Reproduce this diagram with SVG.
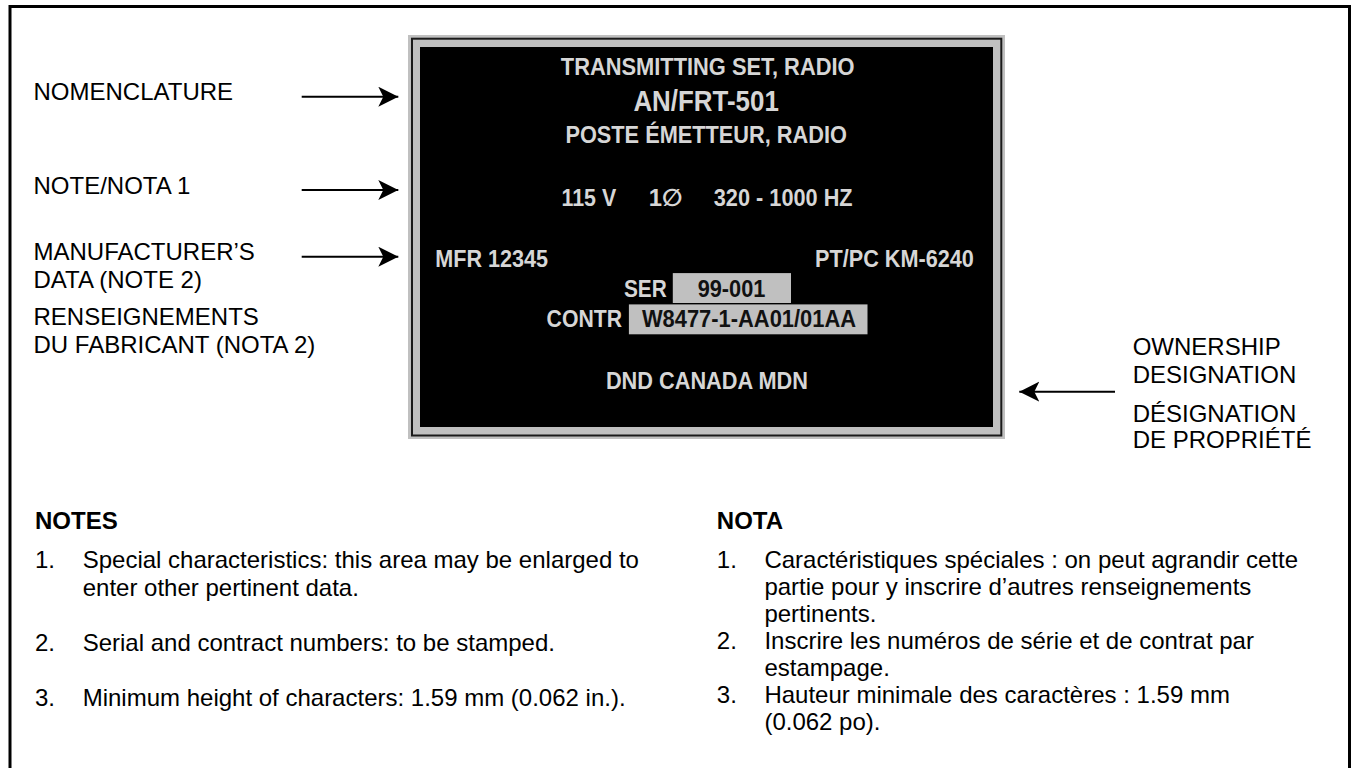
<svg xmlns="http://www.w3.org/2000/svg" width="1354" height="768" viewBox="0 0 1354 768">
<style>
.lbl{font-family:"Liberation Sans",Arial,sans-serif;font-size:24px;fill:#000}
.hd{font-family:"Liberation Sans",Arial,sans-serif;font-size:24px;font-weight:bold;fill:#000}
.pl{font-family:"Liberation Sans",Arial,"DejaVu Sans",sans-serif;font-size:24px;font-weight:bold;fill:#d6d6d6}
.pk{font-family:"Liberation Sans",Arial,sans-serif;font-size:24px;font-weight:bold;fill:#111}
.conn{stroke:#000;stroke-width:2;fill:none;marker-end:url(#ah)}
</style>
<defs>
<marker id="ah" markerUnits="userSpaceOnUse" markerWidth="22" markerHeight="22" refX="20" refY="10" orient="auto">
<path d="M0,0 L20,10 L0,20 L5,10 Z" fill="#000"/>
</marker>
</defs>
<rect x="0" y="0" width="1354" height="768" fill="#fff"/>
<rect id="frame" x="10" y="6.5" width="1339.5" height="780" fill="none" stroke="#000" stroke-width="3"/>

<g id="plate">
<rect x="408" y="35" width="597" height="404" fill="#c0c0c0"/>
<rect x="412" y="38.7" width="589.3" height="396.8" fill="none" stroke="#1a1a1a" stroke-width="2"/>
<rect x="420" y="47" width="573" height="380" fill="#000"/>
<text class="pl" x="560.8" y="75.3" textLength="293.7" lengthAdjust="spacingAndGlyphs">TRANSMITTING SET, RADIO</text>
<text class="pl" x="633.4" y="111.2" style="font-size:30px" textLength="145.4" lengthAdjust="spacingAndGlyphs">AN/FRT-501</text>
<text class="pl" x="565.4" y="143.4" textLength="281.5" lengthAdjust="spacingAndGlyphs">POSTE ÉMETTEUR, RADIO</text>
<text class="pl" x="561.5" y="205.9" textLength="54.7" lengthAdjust="spacingAndGlyphs">115 V</text>
<text class="pl" x="648.7" y="205.9" textLength="33.7" lengthAdjust="spacingAndGlyphs">1∅</text>
<text class="pl" x="713.8" y="205.9" textLength="138.8" lengthAdjust="spacingAndGlyphs">320 - 1000 HZ</text>
<text class="pl" x="435.3" y="266.8" textLength="112.8" lengthAdjust="spacingAndGlyphs">MFR 12345</text>
<text class="pl" x="815.1" y="266.8" textLength="158.8" lengthAdjust="spacingAndGlyphs">PT/PC KM-6240</text>
<rect x="672.8" y="273.1" width="118.2" height="29.9" fill="#c0c0c0"/>
<rect x="628.9" y="304.4" width="238.6" height="29.9" fill="#c0c0c0"/>
<text class="pl" x="623.9" y="297.4" textLength="42.8" lengthAdjust="spacingAndGlyphs">SER</text>
<text class="pk" x="697.7" y="297.4" textLength="67.7" lengthAdjust="spacingAndGlyphs">99-001</text>
<text class="pl" x="546.6" y="327.3" textLength="75.4" lengthAdjust="spacingAndGlyphs">CONTR</text>
<text class="pk" x="641.9" y="327.3" textLength="214.2" lengthAdjust="spacingAndGlyphs">W8477-1-AA01/01AA</text>
<text class="pl" x="605.9" y="388.8" textLength="202" lengthAdjust="spacingAndGlyphs">DND CANADA MDN</text>
</g>

<g id="label-nomenclature"><text class="lbl" x="33.5" y="100">NOMENCLATURE</text></g>
<g id="label-note1"><text class="lbl" x="33.5" y="194">NOTE/NOTA 1</text></g>
<g id="label-mfr">
<text class="lbl" x="33.5" y="259.5">MANUFACTURER’S</text>
<text class="lbl" x="33.5" y="288">DATA (NOTE 2)</text>
<text class="lbl" x="33.5" y="325">RENSEIGNEMENTS</text>
<text class="lbl" x="33.5" y="353">DU FABRICANT (NOTA 2)</text>
</g>
<g id="label-ownership">
<text class="lbl" x="1132.7" y="355">OWNERSHIP</text>
<text class="lbl" x="1132.7" y="382.7">DESIGNATION</text>
<text class="lbl" x="1132.7" y="421.7">DÉSIGNATION</text>
<text class="lbl" x="1132.7" y="448.3">DE PROPRIÉTÉ</text>
</g>

<g id="connectors">
<line class="conn" x1="301.7" y1="96.7" x2="398.3" y2="96.7"/>
<line class="conn" x1="301.7" y1="190" x2="398.3" y2="190"/>
<line class="conn" x1="301.7" y1="256.7" x2="398.3" y2="256.7"/>
<line class="conn" x1="1115" y1="391.7" x2="1019.3" y2="391.7"/>
</g>

<g id="notes-en">
<text class="hd" x="35" y="529.3">NOTES</text>
<text class="lbl" x="35" y="568.3">1.</text>
<text class="lbl" x="82.7" y="568.3">Special characteristics: this area may be enlarged to</text>
<text class="lbl" x="82.7" y="596">enter other pertinent data.</text>
<text class="lbl" x="35" y="651">2.</text>
<text class="lbl" x="82.7" y="651">Serial and contract numbers: to be stamped.</text>
<text class="lbl" x="35" y="706">3.</text>
<text class="lbl" x="82.7" y="706">Minimum height of characters: 1.59 mm (0.062 in.).</text>
</g>

<g id="notes-fr">
<text class="hd" x="716.8" y="529.3">NOTA</text>
<text class="lbl" x="716.8" y="568.3">1.</text>
<text class="lbl" x="764.4" y="568.3">Caractéristiques spéciales : on peut agrandir cette</text>
<text class="lbl" x="764.4" y="595.3">partie pour y inscrire d’autres renseignements</text>
<text class="lbl" x="764.4" y="622.3">pertinents.</text>
<text class="lbl" x="716.8" y="649.3">2.</text>
<text class="lbl" x="764.4" y="649.3">Inscrire les numéros de série et de contrat par</text>
<text class="lbl" x="764.4" y="676.3">estampage.</text>
<text class="lbl" x="716.8" y="703.3">3.</text>
<text class="lbl" x="764.4" y="703.3">Hauteur minimale des caractères : 1.59 mm</text>
<text class="lbl" x="764.4" y="730.3">(0.062 po).</text>
</g>
</svg>
